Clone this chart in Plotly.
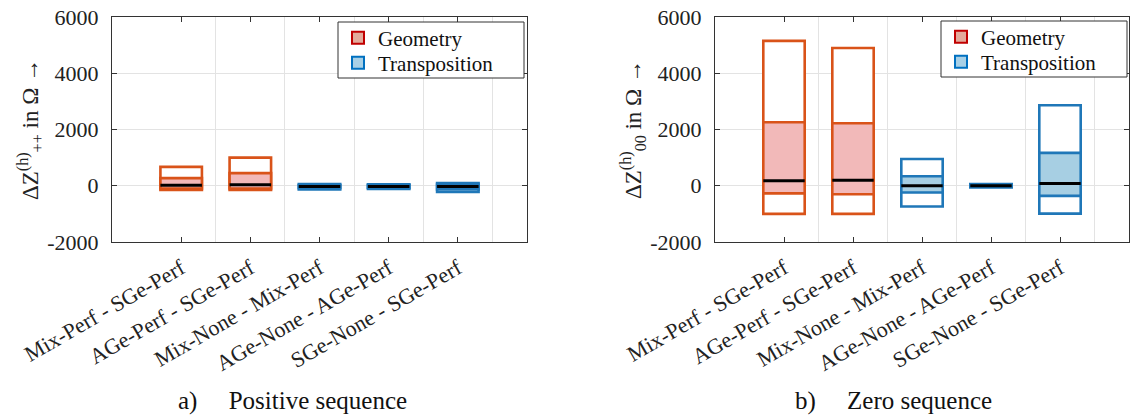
import plotly.graph_objects as go

# ---------------- data ----------------
categories = ["Mix-Perf - SGe-Perf", "AGe-Perf - SGe-Perf", "Mix-None - Mix-Perf",
              "AGe-None - AGe-Perf", "SGe-None - SGe-Perf"]
groups = ["Geometry", "Geometry", "Transposition", "Transposition", "Transposition"]
legend_names = ["Geometry", "Transposition"]

# positive sequence (Ohm)
pos_max = [670, 1000, 60, 50, 100]
pos_q_hi = [270, 450, 20, 20, 40]
pos_med = [20, 40, -30, -30, -30]
pos_q_lo = [-100, -100, -80, -70, -130]
pos_min = [-150, -150, -130, -110, -220]

# zero sequence (Ohm)
zero_max = [5150, 4900, 950, 60, 2860]
zero_q_hi = [2260, 2220, 340, 30, 1170]
zero_med = [180, 200, 0, 0, 80]
zero_q_lo = [-270, -300, -240, -30, -360]
zero_min = [-1000, -1000, -740, -60, -990]

y_ticks = [-2000, 0, 2000, 4000, 6000]
y_ticktext = ["-2000", "0", "2000", "4000", "6000"]

# ---------------- styles ----------------
LINE = {"Geometry": "#D95319", "Transposition": "#1F77B8"}
FILL = {"Geometry": "#F2B9B9", "Transposition": "#A7CFE3"}
LEG_LINE = {"Geometry": "#C00000", "Transposition": "#0070C0"}
LEG_FILL = {"Geometry": "#E3AB9C", "Transposition": "#A8D0E6"}
FONT = "Liberation Serif"
BOX_W = 0.6

fig = go.Figure()
xpos = list(range(1, len(categories) + 1))


def add_panel(xa, ya, vmax, qhi, med, qlo, vmin, legends):
    lc = [LINE[g] for g in groups]
    fc = [FILL[g] for g in groups]
    fig.add_trace(go.Bar(x=xpos, y=[a - b for a, b in zip(vmax, vmin)], base=vmin,
                         width=BOX_W, marker=dict(color="white", line=dict(color=lc, width=2.6)),
                         xaxis=xa, yaxis=ya, showlegend=False, hoverinfo="skip"))
    fig.add_trace(go.Bar(x=xpos, y=[a - b for a, b in zip(qhi, qlo)], base=qlo,
                         width=BOX_W, marker=dict(color=fc, line=dict(color=lc, width=2.6)),
                         xaxis=xa, yaxis=ya, showlegend=False, hoverinfo="skip"))
    mx, my = [], []
    for p, m in zip(xpos, med):
        mx += [p - BOX_W / 2, p + BOX_W / 2, None]
        my += [m, m, None]
    fig.add_trace(go.Scatter(x=mx, y=my, mode="lines", line=dict(color="black", width=3),
                             xaxis=xa, yaxis=ya, showlegend=False, hoverinfo="skip"))
    for g, lg in zip(legend_names, legends):
        fig.add_trace(go.Bar(x=[None], y=[None], name=g, legend=lg,
                             marker=dict(color=LEG_FILL[g], line=dict(color=LEG_LINE[g], width=3)),
                             xaxis=xa, yaxis=ya, showlegend=True))


add_panel("x", "y", pos_max, pos_q_hi, pos_med, pos_q_lo, pos_min, ["legend", "legend2"])
add_panel("x2", "y2", zero_max, zero_q_hi, zero_med, zero_q_lo, zero_min, ["legend3", "legend4"])

W, H = 1130, 417
ytop, ybot = 17, 242
ydom = [1 - ybot / H, 1 - ytop / H]

xaxis_common = dict(range=[0, 6], tickvals=xpos, ticktext=categories, tickangle=-30,
                    ticks="inside", ticklen=5, tickcolor="#333", showgrid=False,
                    minor=dict(tickvals=[1.5, 2.5, 3.5, 4.5, 5.5], showgrid=True,
                               gridcolor="#e3e3e3", gridwidth=1, ticks=""),
                    showline=True, linecolor="#333", linewidth=1, mirror="ticks",
                    zeroline=False, tickfont=dict(family=FONT, size=22, color="#222"),
                    ticklabelstandoff=4, automargin=False, fixedrange=True)
yaxis_common = dict(range=[-2000, 6000], tickvals=y_ticks, ticktext=y_ticktext,
                    ticks="inside", ticklen=5,
                    tickcolor="#333", showgrid=True, gridcolor="#e3e3e3", gridwidth=1,
                    showline=True, linecolor="#333", linewidth=1, mirror="ticks",
                    zeroline=False, tickfont=dict(family=FONT, size=22, color="#222"),
                    ticklabelstandoff=8, domain=ydom, automargin=False)

legend_common = dict(bgcolor="rgba(0,0,0,0)", borderwidth=0,
                     font=dict(family=FONT, size=21, color="#111"),
                     xanchor="left", yanchor="middle", tracegroupgap=0,
                     itemsizing="constant")

# legend frames (decoration, paper coordinates)
frames = [(338, 22, 524, 78), (941, 21, 1127, 77)]
shapes = [dict(type="rect", xref="paper", yref="paper", x0=a / W, x1=c / W,
               y0=1 - d / H, y1=1 - b / H, line=dict(color="#333", width=1),
               fillcolor="white", layer="above") for a, b, c, d in frames]

fig.update_layout(
    width=W, height=H, margin=dict(l=0, r=0, t=0, b=0, autoexpand=False),
    paper_bgcolor="white", plot_bgcolor="white", barmode="overlay",
    xaxis=dict(domain=[112 / W, 527 / W], anchor="y", **xaxis_common),
    yaxis=dict(anchor="x",
               title=dict(text="ΔZ<sup>(h)</sup><sub>++</sub> in Ω →",
                          font=dict(family=FONT, size=23, color="#222"), standoff=2),
               **yaxis_common),
    xaxis2=dict(domain=[715 / W, 1129 / W], anchor="y2", **xaxis_common),
    yaxis2=dict(anchor="x2",
                title=dict(text="ΔZ<sup>(h)</sup><sub>00</sub> in Ω →",
                           font=dict(family=FONT, size=23, color="#222"), standoff=2),
                **yaxis_common),
    legend=dict(x=338 / W, y=1 - 38 / H, **legend_common),
    legend2=dict(x=338 / W, y=1 - 63 / H, **legend_common),
    legend3=dict(x=941 / W, y=1 - 37 / H, **legend_common),
    legend4=dict(x=941 / W, y=1 - 62 / H, **legend_common),
    shapes=shapes,
    annotations=[
        dict(text="a)\u00a0\u00a0\u00a0\u00a0\u00a0Positive sequence", x=292 / W, y=1 - 401 / H,
             xref="paper", yref="paper",
             showarrow=False, font=dict(family=FONT, size=25, color="#111"),
             xanchor="center", yanchor="middle"),
        dict(text="b)\u00a0\u00a0\u00a0\u00a0\u00a0Zero sequence", x=893 / W, y=1 - 401 / H,
             xref="paper", yref="paper",
             showarrow=False, font=dict(family=FONT, size=25, color="#111"),
             xanchor="center", yanchor="middle"),
    ],
)

fig.write_html("out.html")
